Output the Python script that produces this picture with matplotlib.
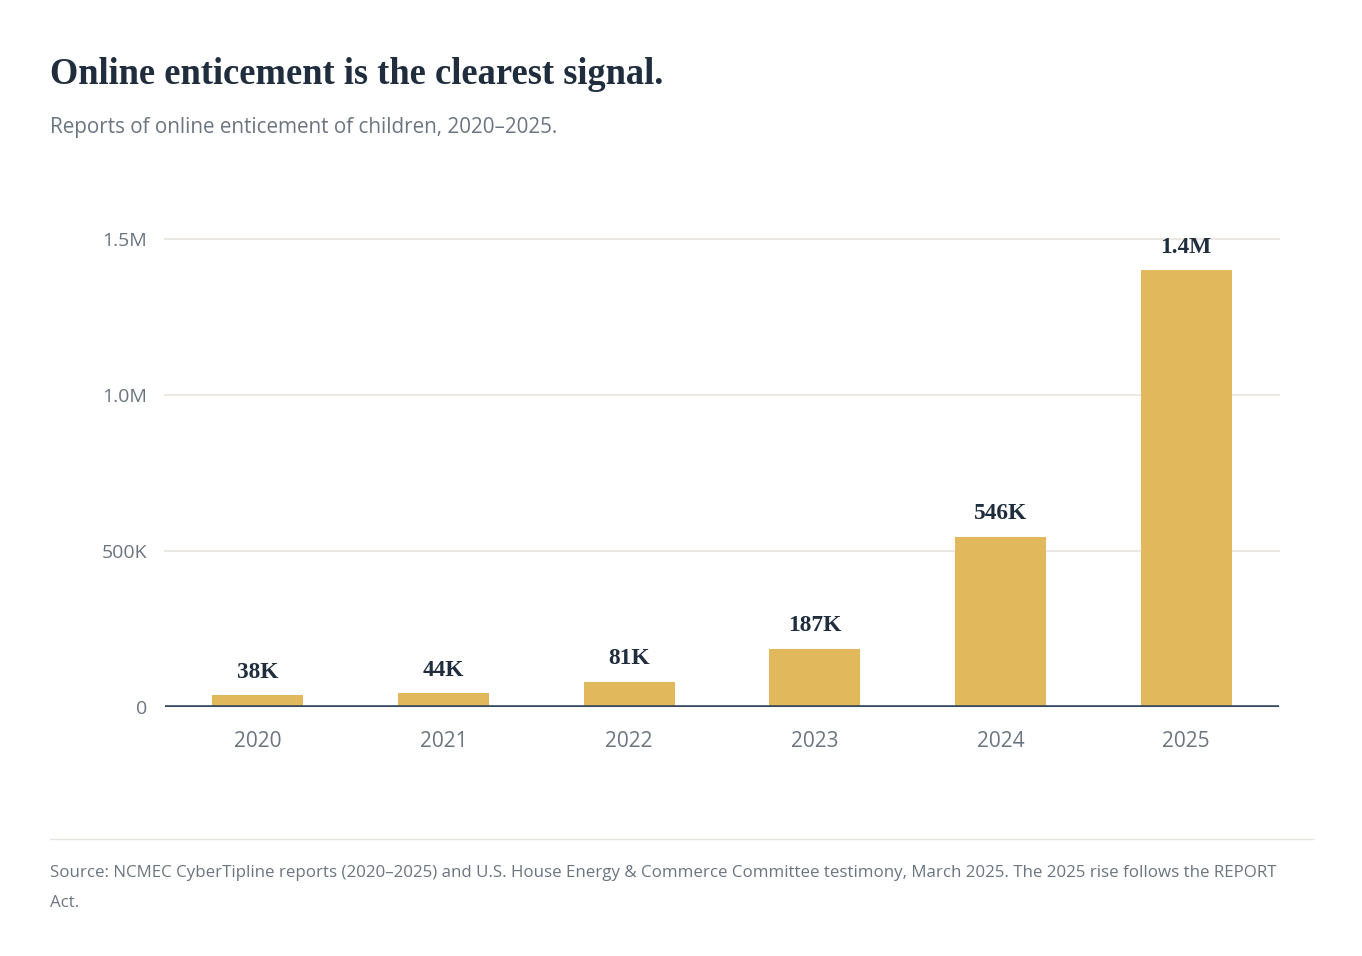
import numpy as np
import matplotlib
matplotlib.use('Agg')
import matplotlib.pyplot as plt
from matplotlib.lines import Line2D

# Data
years = ['2020', '2021', '2022', '2023', '2024', '2025']
reports = [38000, 44000, 81000, 187000, 546000, 1400000]
value_labels = ['38K', '44K', '81K', '187K', '546K', '1.4M']
y_ticks = [0, 500000, 1000000, 1500000]
y_tick_labels = ['0', '500K', '1.0M', '1.5M']

bar_color = '#E1B95C'
dark = '#1F2D3D'
gray = '#6B7580'
grid_color = '#ECE9E4'
base_color = '#34495E'

plt.rcParams['font.family'] = ['Open Sans', 'DejaVu Sans']
serif = ['Liberation Serif', 'DejaVu Serif']

fig = plt.figure(figsize=(13.62, 9.56), dpi=100)
fig.patch.set_facecolor('white')
ax = fig.add_axes([165/1362, 1 - 707/956, (1279 - 165)/1362, (707 - 239)/956])

x = np.arange(len(years))
ax.bar(x, reports, width=0.49, color=bar_color, zorder=2)

for xi, v, lab in zip(x, reports, value_labels):
    ax.annotate(lab, (xi, v), xytext=(0, 9), textcoords='offset points',
                ha='center', va='bottom', fontsize=16.8, fontweight='bold',
                color=dark, family=serif)

ax.set_xlim(-0.5, len(years) - 0.5)
ax.set_ylim(0, 1500000)
ax.set_yticks(y_ticks)
ax.set_yticklabels(y_tick_labels)
ax.set_xticks(x)
ax.set_xticklabels(years)
ax.tick_params(axis='y', length=0, pad=13, labelsize=14, labelcolor=gray)
ax.tick_params(axis='x', length=0, pad=17.5, labelsize=15, labelcolor=gray)

for t in y_ticks[1:]:
    ax.axhline(t, color=grid_color, linewidth=1.5, zorder=1, clip_on=False)
ax.axhline(0, color=base_color, linewidth=2.6, zorder=3)

for s in ax.spines.values():
    s.set_visible(False)

fig.text(50/1362, 1 - 75/956, 'Online enticement is the clearest signal.',
         fontsize=26.3, fontweight='bold', color=dark, family=serif,
         ha='left', va='center')
fig.text(50/1362, 1 - 127/956, 'Reports of online enticement of children, 2020\u20132025.',
         fontsize=14.85, color=gray, ha='left', va='center')

fig.add_artist(Line2D([50/1362, 1314/1362], [1 - 839/956, 1 - 839/956],
                      color='#E9E7E2', linewidth=1, transform=fig.transFigure))
fig.text(50/1362, 1 - 873/956,
         'Source: NCMEC CyberTipline reports (2020\u20132025) and U.S. House Energy & Commerce '
         'Committee testimony, March 2025. The 2025 rise follows the REPORT',
         fontsize=12.15, color=gray, ha='left', va='center')
fig.text(50/1362, 1 - 903/956, 'Act.', fontsize=12.15, color=gray, ha='left', va='center')

fig.savefig('out.png', dpi=100, facecolor='white')
